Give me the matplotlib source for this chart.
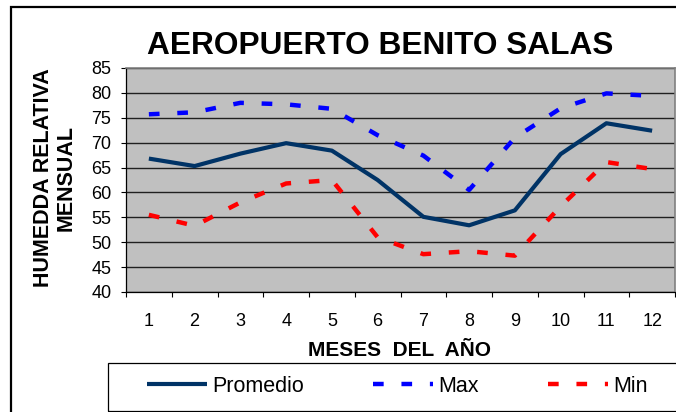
import matplotlib
matplotlib.use("Agg")
import matplotlib.pyplot as plt
from matplotlib.patches import Rectangle

# data
meses = [1, 2, 3, 4, 5, 6, 7, 8, 9, 10, 11, 12]
promedio = [66.8, 65.3, 67.8, 69.9, 68.4, 62.5, 55.1, 53.4, 56.4, 67.7, 73.9, 72.4]
maximo = [75.7, 76.1, 78.0, 77.7, 76.8, 71.5, 67.4, 60.5, 71.0, 76.9, 79.9, 79.4]
minimo = [55.5, 53.3, 58.0, 61.8, 62.5, 51.0, 47.6, 48.2, 47.3, 57.2, 66.1, 64.7]
y_ticks = [40, 45, 50, 55, 60, 65, 70, 75, 80, 85]

plt.rcParams["font.family"] = ["Liberation Sans", "DejaVu Sans"]

W, H = 676, 412
fig = plt.figure(figsize=(W / 100, H / 100), dpi=100)

# outer chart border and legend box
fig.patches.append(Rectangle((11 / W, -0.1), 2, 1 - 7 / H + 0.1, transform=fig.transFigure,
                             fill=False, edgecolor="black", lw=1.6))
fig.patches.append(Rectangle((108 / W, 1 - 410.5 / H), 2, (410.5 - 363) / H, transform=fig.transFigure,
                             fill=False, edgecolor="black", lw=0.9))

ax = fig.add_axes([126 / W, 1 - 292 / H, (675 - 126) / W, (292 - 68) / H])
ax.set_facecolor("#C0C0C0")

dash = (0, (2.4, 4.0))
ax.plot(meses, promedio, color="#003366", lw=3, solid_capstyle="butt", label="Promedio", zorder=3)
ax.plot(meses, maximo, color="#0000FF", lw=3.2, linestyle=dash, dash_capstyle="butt", label="Max", zorder=3)
ax.plot(meses, minimo, color="#FF0000", lw=3.2, linestyle=dash, dash_capstyle="butt", label="Min", zorder=3)

ax.set_xlim(0.5, 12.5)
ax.set_ylim(40, 85)
ax.set_yticks(y_ticks)
ax.yaxis.grid(True, color="#202020", lw=1)
ax.set_axisbelow(True)
ax.tick_params(axis="y", direction="out", length=3.6, width=0.8, pad=7, labelsize=13)

ax.set_xticks([m + 0.5 for m in [0] + meses])
ax.set_xticklabels([])
ax.set_xticks(meses, minor=True)
ax.set_xticklabels([str(m) for m in meses], minor=True)
ax.tick_params(axis="x", which="major", direction="out", length=3.6, width=0.8)
ax.tick_params(axis="x", which="minor", length=0, pad=15, labelsize=13)

for s in ["top", "right"]:
    ax.spines[s].set_color("#808080")
    ax.spines[s].set_linewidth(1.2)
for s in ["left", "bottom"]:
    ax.spines[s].set_color("black")
    ax.spines[s].set_linewidth(0.9)

fig.text(380 / W, 1 - 46 / H, "AEROPUERTO BENITO SALAS", ha="center", va="center",
         fontsize=22.8, fontweight="bold")
fig.text(55 / W, 1 - 178 / H, "HUMEDDA RELATIVA\nMENSUAL", ha="center", va="center",
         rotation=90, fontsize=15.5, fontweight="bold",
         linespacing=1.1, multialignment="center")
fig.text(400 / W, 1 - 350 / H, "MESES  DEL  AÑO", ha="center", va="center",
         fontsize=15, fontweight="bold")

handles, labels = ax.get_legend_handles_labels()
fig.legend(handles, labels, ncol=3, mode="expand", frameon=False,
           loc="center", bbox_to_anchor=(147 / W, 1 - 396 / H, (648 - 147) / W, 20 / H),
           bbox_transform=fig.transFigure, borderpad=0, borderaxespad=0,
           handlelength=2.8, handletextpad=0.25, fontsize=15.5)

fig.savefig("out.png", dpi=100)
